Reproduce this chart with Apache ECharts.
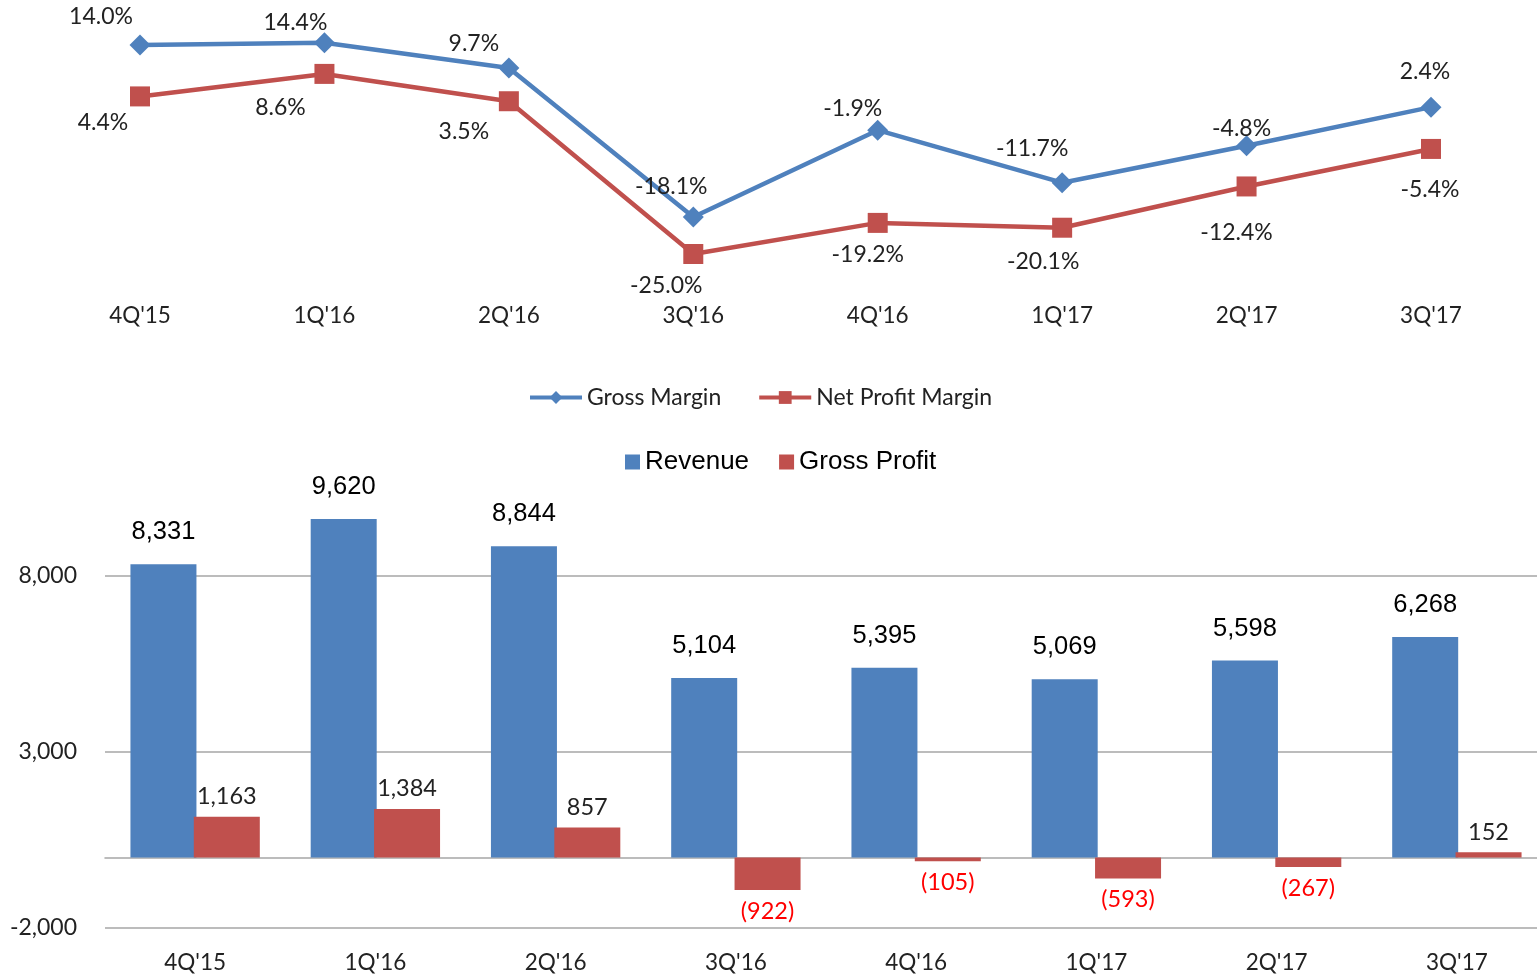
<!DOCTYPE html>
<html>
<head>
<meta charset="utf-8">
<title>Margins and Revenue</title>
<script src="https://cdn.jsdelivr.net/npm/echarts@6/dist/echarts.min.js"></script>
<style>
  html, body { margin: 0; padding: 0; background: #fff; }
  #chart { width: 1537px; height: 978px; }
</style>
</head>
<body>
<div id="chart"></div>
<script>
// quarters shared by both panels
var quarters = ["4Q'15", "1Q'16", "2Q'16", "3Q'16", "4Q'16", "1Q'17", "2Q'17", "3Q'17"];

// margins, in percent
var grossMargin = [14.0, 14.4, 9.7, -18.1, -1.9, -11.7, -4.8, 2.4];
var netProfitMargin = [4.4, 8.6, 3.5, -25.0, -19.2, -20.1, -12.4, -5.4];

// revenue and gross profit
var revenue = [8331, 9620, 8844, 5104, 5395, 5069, 5598, 6268];
var grossProfit = [1163, 1384, 857, -922, -105, -593, -267, 152];

// tick labels of the bar panel
var barTicks = [-2000, 3000, 8000];

// label offsets (layout only)
var gmOffsets = [[-39, -28], [-29, -20], [-35, -24], [-22, -30], [-25, -22], [-30, -34], [-5, -17], [-6, -36]];
var npmOffsets = [[-37, 26], [-44, 34], [-45, 30], [-27, 32], [-10, 32], [-19, 34], [-10, 46], [-1, 41]];

var BLUE = '#4F81BD';
var RED = '#C0504D';
var FONT = 'Lato, "Open Sans", sans-serif';
var ARIAL = '"Liberation Sans", Arial, sans-serif';

function fmt(v) {
  return Number(v).toLocaleString('en-US');
}

var chart = echarts.init(document.getElementById('chart'));

chart.setOption({
  animation: false,
  legend: [{
    data: ['Gross Margin', 'Net Profit Margin'],
    top: 381,
    left: 523,
    itemWidth: 52,
    itemHeight: 16,
    itemGap: 36,
    lineStyle: { width: 4 },
    textStyle: { fontFamily: FONT, fontSize: 23, color: '#222' }
  }, {
    data: ['Revenue', 'Gross Profit'],
    top: 444,
    left: 620,
    icon: 'rect',
    itemWidth: 15,
    itemHeight: 15,
    itemGap: 30,
    textStyle: { fontFamily: ARIAL, fontSize: 26, color: '#000' }
  }],
  grid: [{
    left: 47.8,
    right: 13.8,
    top: 12.8,
    height: 278.7,
    outerBoundsMode: 'none'
  }, {
    left: 105,
    width: 1442,
    top: 488,
    height: 440,
    outerBoundsMode: 'none'
  }],
  xAxis: [{
    gridIndex: 0,
    type: 'category',
    data: quarters,
    axisLine: { show: false },
    axisTick: { show: false },
    axisLabel: { margin: 13, fontFamily: FONT, fontSize: 22.5, color: '#222' }
  }, {
    gridIndex: 1,
    type: 'category',
    data: quarters,
    axisLine: { onZero: true, lineStyle: { color: '#a6a6a6', width: 1.5 } },
    axisTick: { show: false },
    axisLabel: { margin: 23, fontFamily: FONT, fontSize: 22.5, color: '#222' }
  }],
  yAxis: [{
    gridIndex: 0,
    type: 'value',
    min: -32,
    max: 20,
    show: false
  }, {
    gridIndex: 1,
    type: 'value',
    min: barTicks[0],
    max: 10500,
    interval: barTicks[1] - barTicks[0],
    axisLine: { show: false },
    axisTick: { show: false },
    splitLine: { show: true, showMaxLine: false, lineStyle: { color: '#a6a6a6', width: 1.5 } },
    axisLabel: {
      showMaxLabel: false,
      margin: 28,
      fontFamily: FONT,
      fontSize: 23,
      color: '#222',
      formatter: function (v) { return barTicks.indexOf(v) >= 0 ? fmt(v) : ''; }
    }
  }],
  series: [{
    name: 'Gross Margin',
    type: 'line',
    xAxisIndex: 0,
    yAxisIndex: 0,
    symbol: 'diamond',
    symbolSize: 21,
    color: BLUE,
    lineStyle: { width: 4.5, color: BLUE },
    data: grossMargin.map(function (v, i) {
      return { value: v, label: { offset: gmOffsets[i] } };
    }),
    label: {
      show: true,
      position: 'inside',
      fontFamily: FONT,
      fontSize: 23,
      color: '#222',
      formatter: function (p) { return p.value.toFixed(1) + '%'; }
    }
  }, {
    name: 'Net Profit Margin',
    type: 'line',
    xAxisIndex: 0,
    yAxisIndex: 0,
    symbol: 'rect',
    symbolSize: 20,
    color: RED,
    lineStyle: { width: 4.5, color: RED },
    data: netProfitMargin.map(function (v, i) {
      return { value: v, label: { offset: npmOffsets[i] } };
    }),
    label: {
      show: true,
      position: 'inside',
      fontFamily: FONT,
      fontSize: 23,
      color: '#222',
      formatter: function (p) { return p.value.toFixed(1) + '%'; }
    }
  }, {
    name: 'Revenue',
    type: 'bar',
    xAxisIndex: 1,
    yAxisIndex: 1,
    barWidth: 66,
    barGap: '-4%',
    color: BLUE,
    data: revenue,
    label: {
      show: true,
      position: 'top',
      distance: 19,
      fontFamily: ARIAL,
      fontSize: 25.5,
      color: '#000',
      formatter: function (p) { return fmt(p.value); }
    }
  }, {
    name: 'Gross Profit',
    type: 'bar',
    xAxisIndex: 1,
    yAxisIndex: 1,
    barWidth: 66,
    color: RED,
    data: grossProfit.map(function (v) {
      return {
        value: v,
        label: v < 0 ? { position: 'bottom', color: '#ff0000', distance: 9 } : { position: 'top', color: '#222', distance: 8 }
      };
    }),
    label: {
      show: true,
      fontFamily: FONT,
      fontSize: 23.5,
      formatter: function (p) { return p.value < 0 ? '(' + fmt(-p.value) + ')' : fmt(p.value); }
    }
  }]
});
</script>
</body>
</html>
